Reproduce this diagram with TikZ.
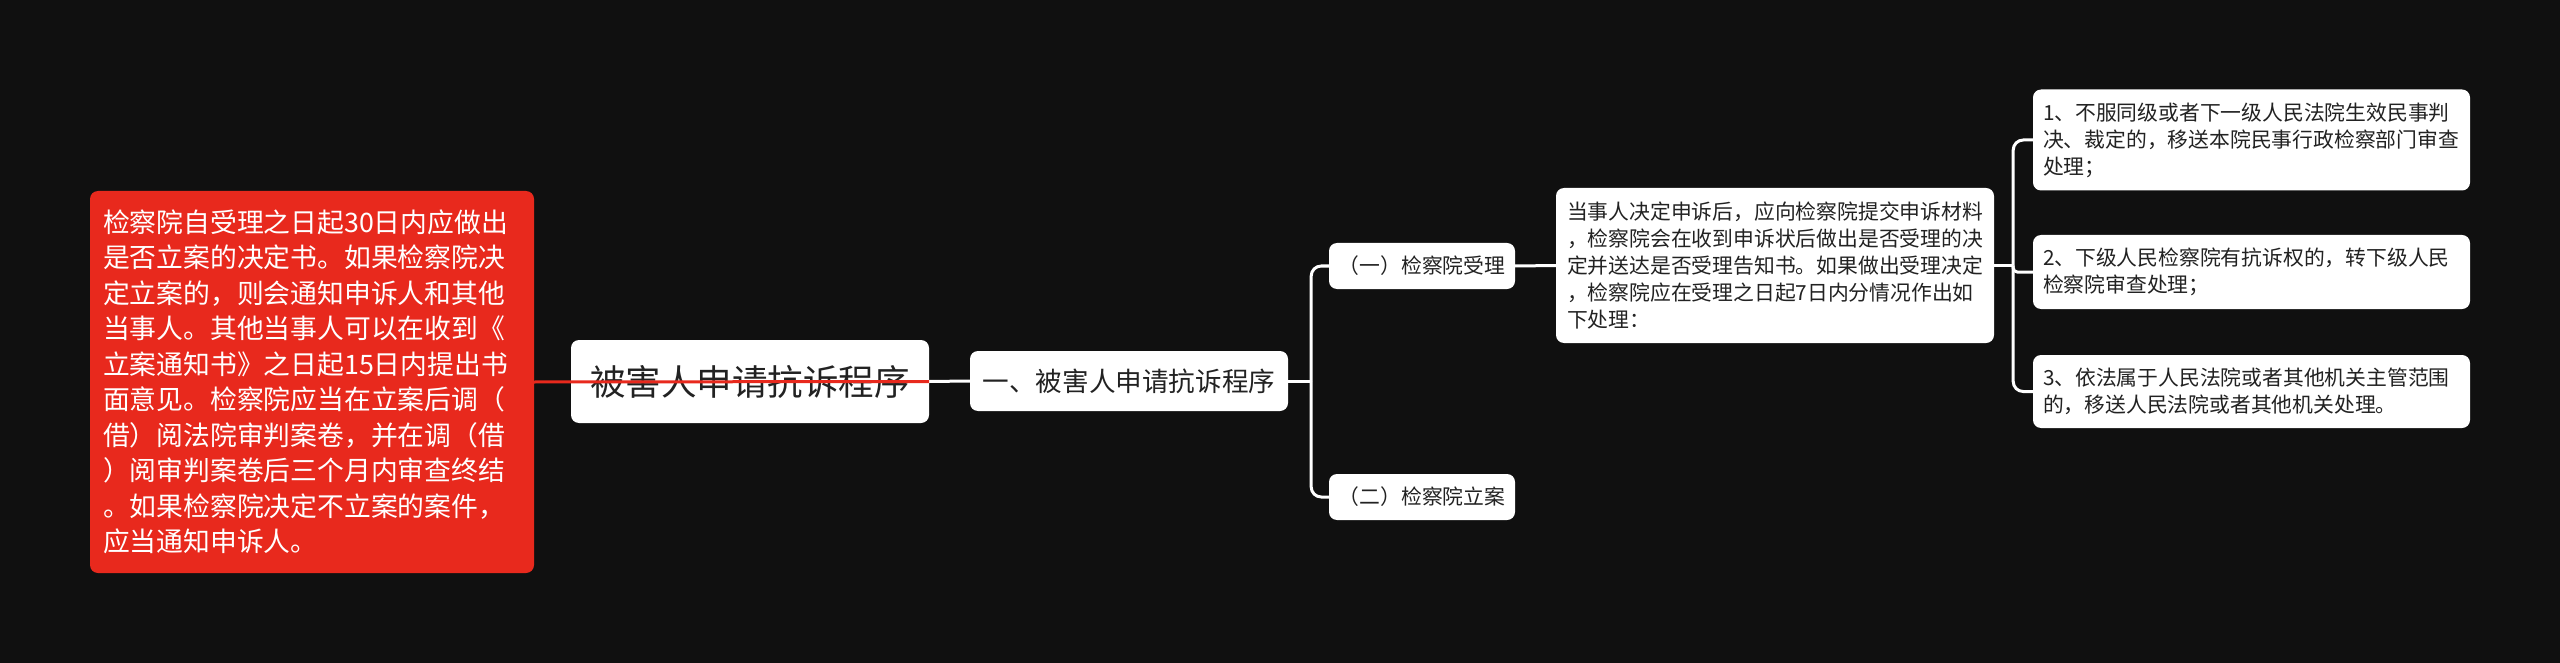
\documentclass[tikz,border=0pt]{standalone}
\usepackage{fontspec}
\setmainfont{Noto Sans CJK SC}
\definecolor{bgc}{RGB}{16,16,16}
\definecolor{redc}{RGB}{232,41,29}
\definecolor{txtc}{RGB}{34,34,34}
\tikzset{
  wbox/.style={draw=none, fill=white, rounded corners=8pt, text=txtc, inner sep=0pt, align=center},
  dbox/.style={wbox, align=left, font=\fontsize{20.8pt}{26.9pt}\selectfont},
  conn/.style={draw=white, line width=3pt},
  redline/.style={draw=redc, line width=3pt},
}
\begin{document}
\begin{tikzpicture}[x=1pt,y=-1pt]
\fill[bgc] (0,0) rectangle (2560,663);
\useasboundingbox (0,0) rectangle (2560,663);

\node[fill=redc, rounded corners=8pt, text=white, inner sep=0pt, align=left,
      minimum width=444pt, minimum height=382pt, text width=418pt,
      font=\fontsize{26.8pt}{35.5pt}\selectfont] (red) at (312,382)
  {检察院自受理之日起30日内应做出\\是否立案的决定书。如果检察院决\\定立案的，则会通知申诉人和其他\\当事人。其他当事人可以在收到《\\立案通知书》之日起15日内提出书\\面意见。检察院应当在立案后调（\\借）阅法院审判案卷，并在调（借\\）阅审判案卷后三个月内审查终结\\。如果检察院决定不立案的案件，\\应当通知申诉人。};

\node[wbox, minimum width=358pt, minimum height=83pt, font=\fontsize{35.5pt}{40pt}\selectfont] (root) at (750,381.5) {被害人申请抗诉程序};
\node[wbox, minimum width=318pt, minimum height=60pt, font=\fontsize{26.6pt}{30pt}\selectfont] (n1) at (1129,381) {一、被害人申请抗诉程序};
\node[wbox, minimum width=186pt, minimum height=46pt, font=\fontsize{20.8pt}{24pt}\selectfont] (a) at (1422,266) {（一）检察院受理};
\node[wbox, minimum width=186pt, minimum height=46pt, font=\fontsize{20.8pt}{24pt}\selectfont] (b) at (1422,497) {（二）检察院立案};

\node[dbox, minimum width=438pt, minimum height=155pt, text width=416pt] (d) at (1775,265.5)
  {当事人决定申诉后，应向检察院提交申诉材料\\，检察院会在收到申诉状后做出是否受理的决\\定并送达是否受理告知书。如果做出受理决定\\，检察院应在受理之日起7日内分情况作出如\\下处理：};

\node[dbox, minimum width=437pt, minimum height=101pt, text width=417pt] (i1) at (2251.5,140)
  {1、不服同级或者下一级人民法院生效民事判\\决、裁定的，移送本院民事行政检察部门审查\\处理；};
\node[dbox, minimum width=437pt, minimum height=74pt, text width=417pt] (i2) at (2251.5,272)
  {2、下级人民检察院有抗诉权的，转下级人民\\检察院审查处理；};
\node[dbox, minimum width=437pt, minimum height=73pt, text width=417pt] (i3) at (2251.5,391.5)
  {3、依法属于人民法院或者其他机关主管范围\\的，移送人民法院或者其他机关处理。};

\coordinate (j1) at ([xshift=23pt]n1.east);
\coordinate (j2) at ([xshift=19pt]d.east);

\draw[conn] (root.east) -- (n1.west);
\draw[conn] (n1.east) -- (j1);
\draw[conn, rounded corners=10pt] (j1) |- (a.west);
\draw[conn, rounded corners=10pt] (j1) |- (b.west);
\draw[conn] (a.east) -- (d.west);
\draw[conn] (d.east) -- (j2);
\draw[conn, rounded corners=10pt] (j2) |- (i1.west);
\draw[conn, rounded corners=4pt] (j2) |- (i2.west);
\draw[conn, rounded corners=10pt] (j2) |- (i3.west);

\draw[redline] (red.east) -- (root.east);
\end{tikzpicture}
\end{document}
